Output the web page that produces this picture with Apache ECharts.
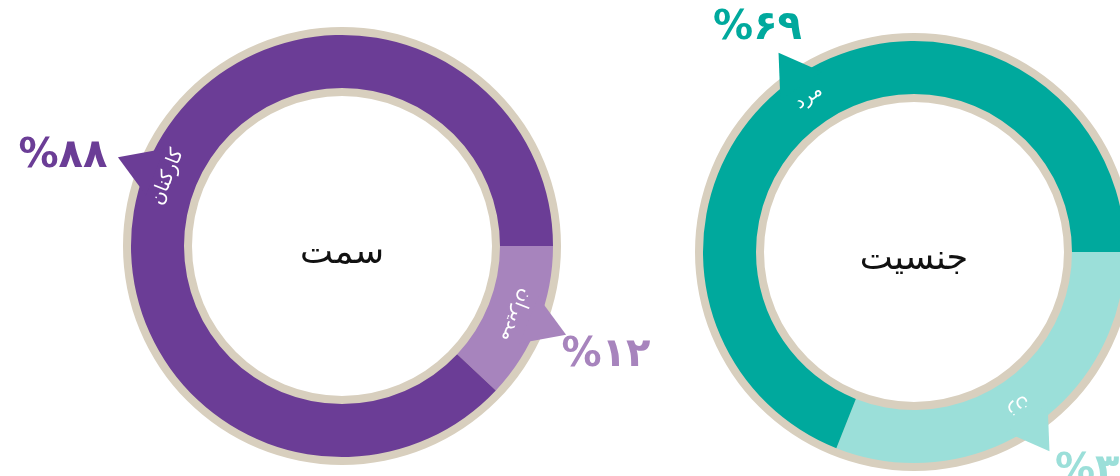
<!DOCTYPE html>
<html><head><meta charset="utf-8">
<script src="https://cdn.jsdelivr.net/npm/echarts@6/dist/echarts.min.js"></script>
<style>html,body{margin:0;padding:0;background:#fff}#c{width:1120px;height:476px}</style>
</head><body><div id="c"></div>
<script>
// ---- data ----
const roleTitle = 'سمت';
const roleCategories = ['مدیران', 'کارکنان'];
const roleValues = [12, 88];
const genderTitle = 'جنسیت';
const genderCategories = ['زن', 'مرد'];
const genderValues = [31, 69];

// ---- layout / style ----
const FONT = "'DejaVu Sans', sans-serif";
const BEIGE = '#d8cfbe';
const R_IN = 158, R_OUT = 211, B_IN = 150, B_OUT = 219, TIP_R = 241, TRI_H = 40, TRI_HALF = 32;
const charts = [
  {title: roleTitle, cats: roleCategories, vals: roleValues, center: [342, 246],
   colors: ['#a784bd', '#6b3d96'], pctOffsets: [[40, 21], [-55, -1]]},
  {title: genderTitle, cats: genderCategories, vals: genderValues, center: [914, 252],
   colors: ['#9bdfd9', '#00a99d'], pctOffsets: [[50, 20], [-21, -24]]}
];
const faDigits = n => String(n).replace(/\d/g, d => '۰۱۲۳۴۵۶۷۸۹'[+d]);

function midAngles(vals) {
  const sum = vals.reduce((a, b) => a + b, 0);
  let acc = 0;
  return vals.map(v => { const m = -(acc + v / 2) / sum * 360; acc += v; return m; });
}

const series = [];
const graphic = [];
charts.forEach(ch => {
  const mids = midAngles(ch.vals);
  const sum = ch.vals.reduce((a, b) => a + b, 0);
  // beige backing ring
  series.push({
    type: 'pie', silent: true, animation: false, center: ch.center, radius: [B_IN, B_OUT],
    label: {show: false}, labelLine: {show: false}, z: 1,
    itemStyle: {color: BEIGE}, data: [{value: 1, name: ''}]
  });
  // main slices
  series.push({
    type: 'pie', silent: true, animation: false, center: ch.center, radius: [R_IN, R_OUT],
    startAngle: 0, clockwise: true, z: 2, labelLine: {show: false},
    data: ch.vals.map((v, i) => ({
      value: v, name: ch.cats[i],
      itemStyle: {color: ch.colors[i]},
      label: {show: true, position: 'inside', rotate: mids[i] - 90, color: '#fff',
        fontSize: 19, fontFamily: FONT, formatter: '{b}'}
    }))
  });
  // pointer triangles + percentage labels
  series.push({
    type: 'custom', coordinateSystem: 'none', silent: true, animation: false, z: 3,
    data: ch.vals.map((v, i) => [i, v]),
    renderItem: (params, api) => {
      const i = params.dataIndex;
      const th = mids[i] * Math.PI / 180;
      const cx = ch.center[0], cy = ch.center[1];
      const tip = [cx + TIP_R * Math.cos(th), cy - TIP_R * Math.sin(th)];
      const dx = -Math.cos(th), dy = Math.sin(th);
      const L = TRI_H / Math.cos(TRI_HALF * Math.PI / 180);
      const pts = [tip];
      [-1, 1].forEach(s => {
        const a = s * TRI_HALF * Math.PI / 180;
        const rx = dx * Math.cos(a) - dy * Math.sin(a);
        const ry = dx * Math.sin(a) + dy * Math.cos(a);
        pts.push([tip[0] + L * rx, tip[1] + L * ry]);
      });
      const pct = Math.round(api.value(1) / sum * 100);
      const off = ch.pctOffsets[i];
      return {
        type: 'group', children: [
          {type: 'polygon', shape: {points: pts}, style: {fill: ch.colors[i]}},
          {type: 'text', x: tip[0] + off[0], y: tip[1] + off[1],
           style: {text: '%' + faDigits(pct), fill: ch.colors[i], font: 'bold 40px ' + FONT,
             align: 'center', verticalAlign: 'middle'}}
        ]
      };
    }
  });
  graphic.push({
    type: 'text', x: ch.center[0], y: ch.center[1] + 8, silent: true,
    style: {text: ch.title, fill: '#111', font: '35px ' + FONT, align: 'center', verticalAlign: 'middle'}
  });
});

const chart = echarts.init(document.getElementById('c'), null, {renderer: 'canvas'});
chart.setOption({backgroundColor: '#fff', animation: false, series, graphic});
</script></body></html>
